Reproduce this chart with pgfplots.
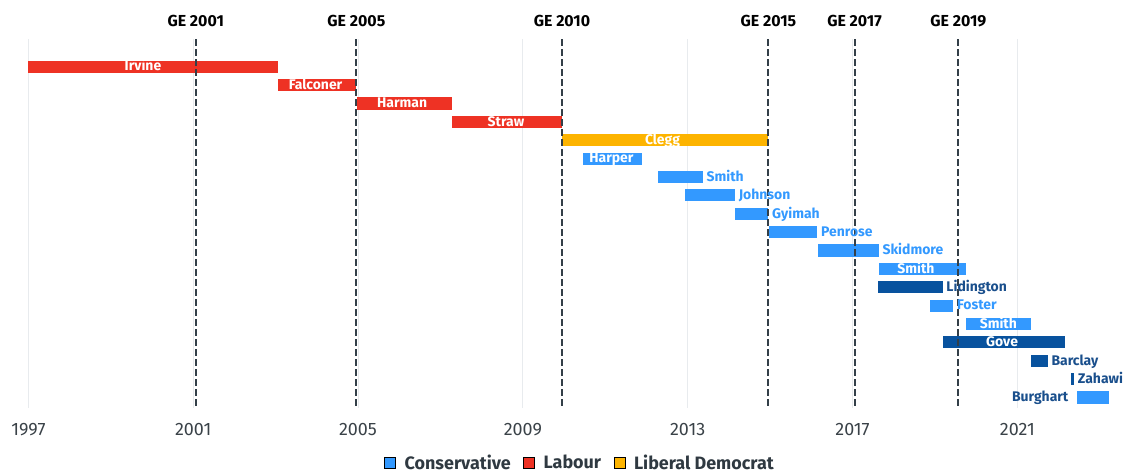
\documentclass[border=0pt]{standalone}
\usepackage{fontspec}
\setmainfont{Fira Sans}
\usepackage{pgfplots}
\pgfplotsset{compat=1.18}
\definecolor{con}{HTML}{3399FF}
\definecolor{lab}{HTML}{EE3224}
\definecolor{ld}{HTML}{FDB400}
\definecolor{dark}{HTML}{08529E}
\definecolor{darktxt}{HTML}{1A4F8C}
\definecolor{geline}{HTML}{333F48}
\definecolor{tickgray}{HTML}{3A4248}
\definecolor{legtext}{HTML}{2F3941}
\definecolor{gridc}{HTML}{E8EBEE}
\tikzset{
  inlab/.style={font=\fontsize{14}{16}\selectfont\bfseries, text=white, inner sep=0pt, text height=1.45ex, text depth=0.2ex, anchor=center, yshift=-1bp},
  outlab/.style={font=\fontsize{14}{16}\selectfont\bfseries, inner sep=0pt, text height=1.45ex, text depth=0.2ex, anchor=west, xshift=3.5bp, yshift=-1bp},
  gelab/.style={font=\fontsize{16}{18}\selectfont\bfseries, inner sep=0pt, anchor=center, yshift=18bp},
}
\newcommand{\tbar}[5]{\addplot[fill=#5, draw=none, forget plot] coordinates {(#1,#3) (#2,#3) (#2,#4) (#1,#4)};}
\newcommand{\geline}[1]{\addplot[geline, line width=2bp, dash pattern=on 6.5bp off 3.5bp, forget plot] coordinates {(#1,-0.49) (#1,19.57)};}
\begin{document}
\begin{tikzpicture}
\useasboundingbox (-28.4bp,-65bp) rectangle (1099.6bp,408bp);
\begin{axis}[
  at={(0,0)}, anchor=south west,
  scale only axis, width=1081.6bp, height=368.7bp,
  xmin=1997, xmax=2023.25, ymin=-0.49, ymax=19.57, y dir=reverse,
  axis line style={draw=none}, major tick length=0pt,
  ytick=\empty,
  xtick={1997,2001,2005,2009,2013,2017,2021},
  xticklabels={1997,2001,2005,2009,2013,2017,2021},
  xticklabel style={font=\fontsize{18}{21}\selectfont, text=tickgray, yshift=-11.5bp},
  xmajorgrids, grid style={gridc, line width=1bp},
  clip=false,
  legend columns=-1,
  legend style={at={(0.51,-0.148)}, anchor=center, draw=none, fill=none,
    font=\fontsize{18}{21}\selectfont\bfseries, text=legtext,
    /tikz/every odd column/.append style={column sep=7bp},
    /tikz/every even column/.append style={column sep=10.5bp}},
  legend image code/.code={\fill[#1] (0bp,-5.5bp) rectangle (11bp,5.5bp);},
]
\addlegendimage{fill=con}\addlegendentry{Conservative}
\addlegendimage{fill=lab}\addlegendentry{Labour}
\addlegendimage{fill=ld}\addlegendentry{Liberal Democrat}
% bars: start, end, top, bottom, colour
\tbar{1997.00}{2003.06}{0.67}{1.33}{lab}
\tbar{2003.06}{2004.96}{1.67}{2.33}{lab}
\tbar{2004.98}{2007.27}{2.67}{3.33}{lab}
\tbar{2007.27}{2009.96}{3.67}{4.33}{lab}
\tbar{2009.96}{2014.96}{4.67}{5.33}{ld}
\tbar{2010.46}{2011.89}{5.67}{6.33}{con}
\tbar{2012.29}{2013.37}{6.67}{7.33}{con}
\tbar{2012.93}{2014.15}{7.67}{8.33}{con}
\tbar{2014.15}{2014.96}{8.67}{9.33}{con}
\tbar{2014.98}{2016.15}{9.67}{10.33}{con}
\tbar{2016.16}{2017.64}{10.67}{11.33}{con}
\tbar{2017.64}{2019.75}{11.67}{12.33}{con}
\tbar{2017.63}{2019.19}{12.67}{13.33}{dark}
\tbar{2018.88}{2019.45}{13.67}{14.33}{con}
\tbar{2019.75}{2021.34}{14.67}{15.33}{con}
\tbar{2019.19}{2022.16}{15.67}{16.33}{dark}
\tbar{2021.33}{2021.74}{16.67}{17.33}{dark}
\tbar{2022.30}{2022.38}{17.67}{18.33}{dark}
\tbar{2022.45}{2023.22}{18.67}{19.33}{con}
% general elections
\geline{2001.06}\geline{2004.96}\geline{2009.95}\geline{2014.96}\geline{2017.05}\geline{2019.57}
\node[gelab] at (axis cs:2001.06,-0.49) {GE 2001};
\node[gelab] at (axis cs:2004.96,-0.49) {GE 2005};
\node[gelab] at (axis cs:2009.95,-0.49) {GE 2010};
\node[gelab] at (axis cs:2014.96,-0.49) {GE 2015};
\node[gelab] at (axis cs:2017.05,-0.49) {GE 2017};
\node[gelab] at (axis cs:2019.57,-0.49) {GE 2019};
% inside labels
\node[inlab] at (axis cs:1999.78,1) {Irvine};
\node[inlab] at (axis cs:2003.97,2) {Falconer};
\node[inlab] at (axis cs:2006.07,3) {Harman};
\node[inlab] at (axis cs:2008.59,4) {Straw};
\node[inlab] at (axis cs:2012.39,5) {Clegg};
\node[inlab] at (axis cs:2011.15,6) {Harper};
\node[inlab] at (axis cs:2018.54,12) {Smith};
\node[inlab] at (axis cs:2020.54,15) {Smith};
\node[inlab] at (axis cs:2020.63,16) {Gove};
% outside labels
\node[outlab, text=con] at (axis cs:2013.37,7) {Smith};
\node[outlab, text=con] at (axis cs:2014.15,8) {Johnson};
\node[outlab, text=con] at (axis cs:2014.96,9) {Gyimah};
\node[outlab, text=con] at (axis cs:2016.15,10) {Penrose};
\node[outlab, text=con] at (axis cs:2017.64,11) {Skidmore};
\node[outlab, text=darktxt] at (axis cs:2019.19,13) {Lidington};
\node[outlab, text=con] at (axis cs:2019.45,14) {Foster};
\node[outlab, text=darktxt] at (axis cs:2021.74,17) {Barclay};
\node[outlab, text=darktxt] at (axis cs:2022.38,18) {Zahawi};
\node[outlab, text=darktxt, anchor=east, xshift=-12bp] at (axis cs:2022.45,19) {Burghart};
\end{axis}
\end{tikzpicture}
\end{document}
